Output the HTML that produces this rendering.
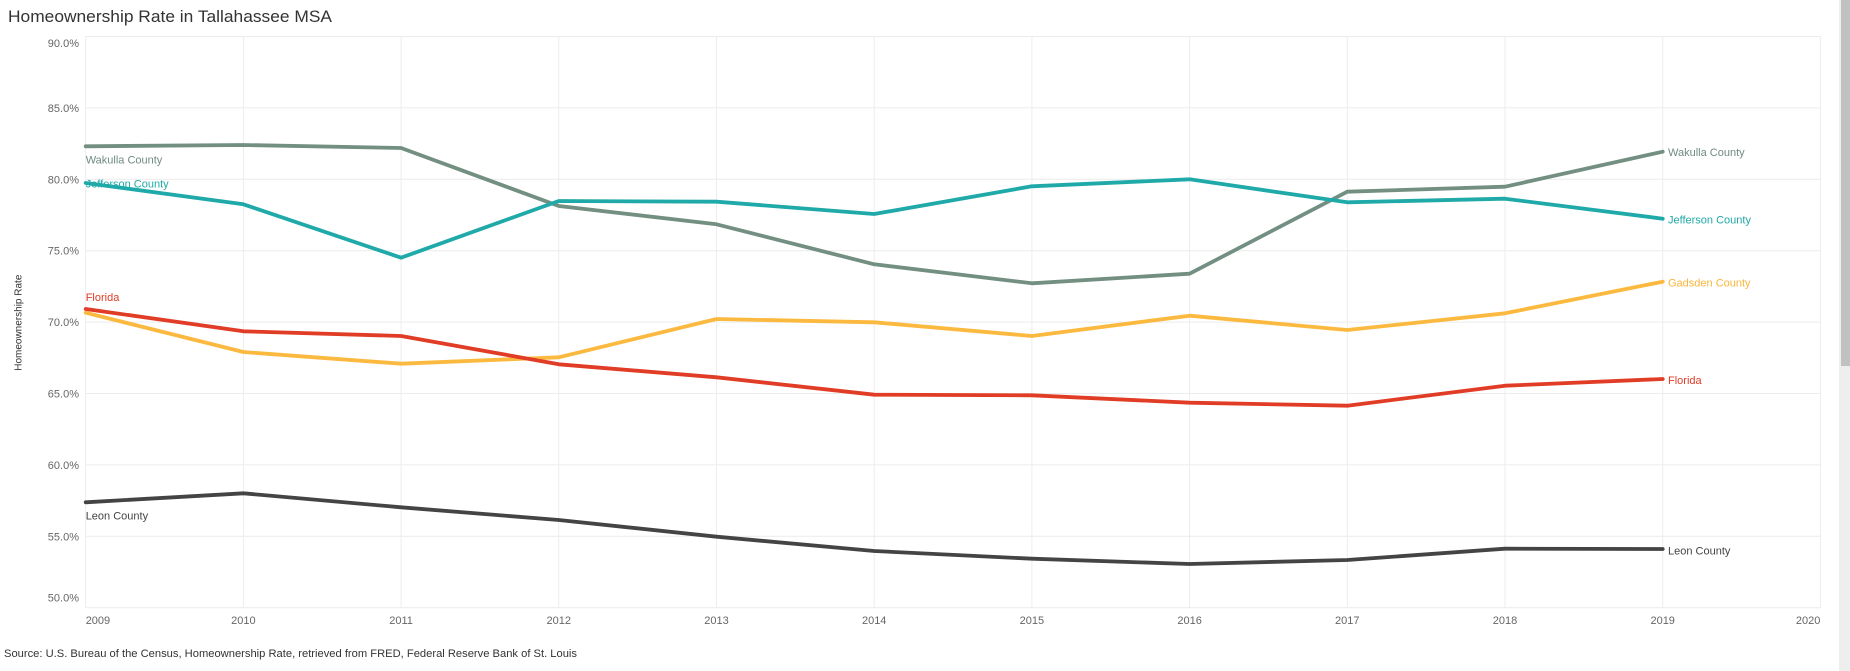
<!DOCTYPE html>
<html>
<head>
<meta charset="utf-8">
<style>
  html, body { margin:0; padding:0; background:#fff; }
  body { width:1850px; height:671px; overflow:hidden; position:relative; }
  svg { display:block; font-family:"Liberation Sans", sans-serif; }
</style>
</head>
<body>
<svg width="1850" height="671" viewBox="0 0 1850 671" xmlns="http://www.w3.org/2000/svg">
  <rect x="0" y="0" width="1850" height="671" fill="#ffffff"/>

  <!-- Title -->
  <text x="8" y="22" font-size="17" fill="#333333" textLength="324" lengthAdjust="spacingAndGlyphs">Homeownership Rate in Tallahassee MSA</text>

  <!-- Horizontal gridlines -->
  <g stroke="#ececec" stroke-width="1">
    <line x1="85.7" y1="36.5" x2="1821" y2="36.5"/>
    <line x1="85.7" y1="107.9" x2="1821" y2="107.9"/>
    <line x1="85.7" y1="179.3" x2="1821" y2="179.3"/>
    <line x1="85.7" y1="250.7" x2="1821" y2="250.7"/>
    <line x1="85.7" y1="322.1" x2="1821" y2="322.1"/>
    <line x1="85.7" y1="393.5" x2="1821" y2="393.5"/>
    <line x1="85.7" y1="464.9" x2="1821" y2="464.9"/>
    <line x1="85.7" y1="536.3" x2="1821" y2="536.3"/>
    <line x1="85.7" y1="607.7" x2="1821" y2="607.7"/>
  </g>
  <!-- Vertical gridlines -->
  <g stroke="#ededed" stroke-width="1">
    <line x1="85.7" y1="36.5" x2="85.7" y2="607.7"/>
    <line x1="243.4" y1="36.5" x2="243.4" y2="607.7"/>
    <line x1="401.1" y1="36.5" x2="401.1" y2="607.7"/>
    <line x1="558.8" y1="36.5" x2="558.8" y2="607.7"/>
    <line x1="716.5" y1="36.5" x2="716.5" y2="607.7"/>
    <line x1="874.2" y1="36.5" x2="874.2" y2="607.7"/>
    <line x1="1031.9" y1="36.5" x2="1031.9" y2="607.7"/>
    <line x1="1189.6" y1="36.5" x2="1189.6" y2="607.7"/>
    <line x1="1347.3" y1="36.5" x2="1347.3" y2="607.7"/>
    <line x1="1505.0" y1="36.5" x2="1505.0" y2="607.7"/>
    <line x1="1662.7" y1="36.5" x2="1662.7" y2="607.7"/>
    <line x1="1820.4" y1="36.5" x2="1820.4" y2="607.7"/>
  </g>

  <!-- Y tick labels -->
  <g font-size="11" fill="#666666" text-anchor="end">
    <text x="79" y="47">90.0%</text>
    <text x="79" y="112">85.0%</text>
    <text x="79" y="183.3">80.0%</text>
    <text x="79" y="254.7">75.0%</text>
    <text x="79" y="326.1">70.0%</text>
    <text x="79" y="397.5">65.0%</text>
    <text x="79" y="468.9">60.0%</text>
    <text x="79" y="540.3">55.0%</text>
    <text x="79" y="601.7">50.0%</text>
  </g>

  <!-- Y axis title -->
  <text transform="translate(21.5,322.7) rotate(-90)" font-size="10" fill="#333333" text-anchor="middle">Homeownership Rate</text>

  <!-- X tick labels -->
  <g font-size="11" fill="#666666" text-anchor="middle">
    <text x="85.7" y="624" text-anchor="start">2009</text>
    <text x="243.4" y="624">2010</text>
    <text x="401.1" y="624">2011</text>
    <text x="558.8" y="624">2012</text>
    <text x="716.5" y="624">2013</text>
    <text x="874.2" y="624">2014</text>
    <text x="1031.9" y="624">2015</text>
    <text x="1189.6" y="624">2016</text>
    <text x="1347.3" y="624">2017</text>
    <text x="1505.0" y="624">2018</text>
    <text x="1662.7" y="624">2019</text>
    <text x="1820.4" y="624" text-anchor="end">2020</text>
  </g>

  <!-- Start labels -->
  <g font-size="11">
    <text x="85.7" y="163.3" fill="#6f8b7f">Wakulla County</text>
    <text x="85.7" y="187.7" fill="#1fa9a8">Jefferson County</text>
    <text x="85.7" y="301" fill="#e03c26">Florida</text>
    <text x="85.7" y="519.3" fill="#444444">Leon County</text>
  </g>

  <!-- Series -->
  <g fill="none" stroke-width="3.8" stroke-linejoin="round" stroke-linecap="round">
    <polyline stroke="#fcb93f" points="85.7,312.7 243.4,352 401.1,363.7 558.8,357.3 716.5,319 874.2,322.3 1031.9,336 1189.6,315.7 1347.3,330 1505.0,313.3 1662.7,281.7"/>
    <polyline stroke="#e03c26" points="85.7,309 243.4,331.3 401.1,336 558.8,364.3 716.5,377.3 874.2,394.7 1031.9,395.3 1189.6,402.7 1347.3,405.7 1505.0,385.7 1662.7,379"/>
    <polyline stroke="#444444" points="85.7,502.3 243.4,493.3 401.1,507.3 558.8,520 716.5,536.7 874.2,551 1031.9,558.7 1189.6,564 1347.3,560 1505.0,548.7 1662.7,549"/>
    <polyline stroke="#728f82" points="85.7,146.3 243.4,145 401.1,148 558.8,206 716.5,224.3 874.2,264.3 1031.9,283.3 1189.6,273.7 1347.3,191.7 1505.0,186.7 1662.7,151.7"/>
    <polyline stroke="#1fa9a8" points="85.7,183 243.4,204.3 401.1,257.7 558.8,201 716.5,201.7 874.2,214 1031.9,186.3 1189.6,179.3 1347.3,202.3 1505.0,198.7 1662.7,218.7"/>
  </g>

  <!-- End labels -->
  <g font-size="11">
    <text x="1668" y="156" fill="#6f8b7f">Wakulla County</text>
    <text x="1668" y="223.3" fill="#1fa9a8">Jefferson County</text>
    <text x="1668" y="286.3" fill="#f9b53b">Gadsden County</text>
    <text x="1668" y="384" fill="#e03c26">Florida</text>
    <text x="1668" y="554.3" fill="#444444">Leon County</text>
  </g>

  <!-- Source -->
  <text x="4" y="657" font-size="11" fill="#333333" textLength="573" lengthAdjust="spacingAndGlyphs">Source: U.S. Bureau of the Census, Homeownership Rate, retrieved from FRED, Federal Reserve Bank of St. Louis</text>

  <!-- Scrollbar -->
  <rect x="1839" y="0" width="11" height="671" fill="#eeeeee"/>
  <rect x="1841" y="0" width="9" height="366" fill="#c1c1c1"/>
</svg>
</body>
</html>
